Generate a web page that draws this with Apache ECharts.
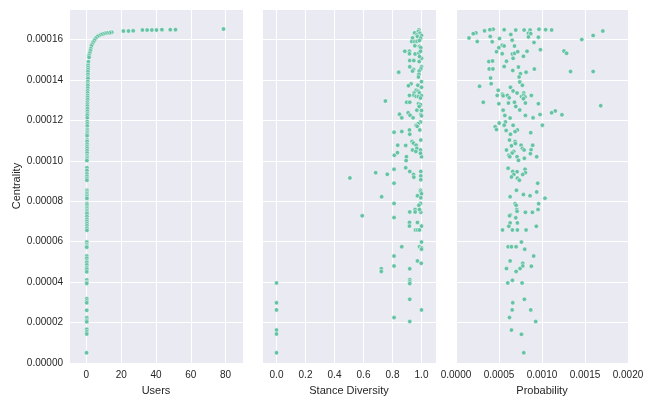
<!DOCTYPE html>
<html><head><meta charset="utf-8">
<script src="https://cdn.jsdelivr.net/npm/echarts@6/dist/echarts.min.js"></script>
<style>html,body{margin:0;padding:0;background:#fff}#c{width:654px;height:401px}</style>
</head><body><div id="c"></div>
<script>
const xNames = ['Users', 'Stance Diversity', 'Probability'];
const yName = 'Centrality';
const yTicks = [0, 0.00002, 0.00004, 0.00006, 0.00008, 0.0001, 0.00012, 0.00014, 0.00016];

const usersPts = [
[14.58,16.35e-5],[13.4,16.33e-5],[11.89,16.32e-5],[10.74,16.30e-5],[9.59,16.27e-5],[8.44,16.24e-5],[7.29,16.19e-5],[6.33,16.14e-5],
[5.37,16.06e-5],[4.60,15.96e-5],[3.84,15.86e-5],[3.26,15.76e-5],[2.88,15.67e-5],[2.49,15.54e-5],[2.30,15.44e-5],[1.92,15.32e-5],
[1.53,15.21e-5],[1.53,15.11e-5],[1.15,14.89e-5],
[21.3,16.41e-5],[24.2,16.41e-5],[26.9,16.42e-5],[32.2,16.46e-5],[34.9,16.46e-5],[37.6,16.46e-5],[40.3,16.46e-5],[43.4,16.48e-5],
[48.2,16.48e-5],[51.2,16.48e-5],[78.8,16.51e-5],
[1.0,14.72e-5],[1.0,14.61e-5],[1.0,14.51e-5],[0.9,14.40e-5],[0.9,14.27e-5],[0.9,14.15e-5],[0.9,14.07e-5],[0.8,13.91e-5],
[0.8,13.80e-5],[0.8,13.72e-5],[0.8,13.59e-5],[0.7,13.46e-5],[0.7,13.35e-5],[0.7,13.23e-5],[0.7,13.13e-5],[0.7,13.02e-5],
[0.6,12.90e-5],[0.6,12.80e-5],[0.6,12.70e-5],[0.6,12.58e-5],[0.6,12.45e-5],[0.6,12.33e-5],[0.5,12.25e-5],[0.5,12.12e-5],
[0.5,11.93e-5],[0.5,11.83e-5],[0.5,11.72e-5],[0.5,11.55e-5],[0.5,11.47e-5],[0.5,11.39e-5],[0.4,11.31e-5],[0.4,11.23e-5],
[0.4,11.02e-5],[0.4,10.95e-5],[0.4,10.82e-5],[0.4,10.71e-5],[0.4,10.61e-5],[0.4,10.50e-5],[0.4,10.38e-5],[0.4,10.25e-5],
[0.4,10.17e-5],[0.3,10.09e-5],[0.3,10.01e-5],[0.3,9.65e-5],[0.3,9.52e-5],[0.3,9.36e-5],[0.3,9.24e-5],[0.3,9.13e-5],
[0.3,9.04e-5],[0.3,8.54e-5],[0.3,8.46e-5],[0.3,8.38e-5],[0.3,8.30e-5],[0.3,8.22e-5],[0.3,8.14e-5],[0.3,7.89e-5],
[0.3,7.81e-5],[0.3,7.70e-5],[0.3,7.62e-5],[0.3,7.54e-5],[0.3,7.46e-5],[0.3,7.38e-5],[0.3,7.24e-5],[0.3,7.11e-5],
[0.3,7.00e-5],[0.3,6.89e-5],[0.3,6.79e-5],[0.3,6.67e-5],[0.3,6.56e-5],[0.2,5.98e-5],[0.2,5.86e-5],[0.2,5.78e-5],
[0.2,5.73e-5],[0.2,5.29e-5],[0.2,5.18e-5],[0.2,5.05e-5],[0.2,4.97e-5],[0.2,4.85e-5],[0.2,4.72e-5],[0.2,4.64e-5],
[0.2,4.51e-5],[0.2,4.11e-5],[0.2,3.99e-5],[0.2,3.94e-5],[0.2,3.18e-5],[0.2,3.07e-5],[0.2,2.98e-5],[0.2,2.61e-5],
[0.2,2.24e-5],[0.2,2.12e-5],[0.2,2.04e-5],[0.2,1.67e-5],[0.2,1.55e-5],[0.2,1.44e-5],[0.1,0.51e-5]
];

const stancePts = [
[0.982,16.46e-5],[0.977,16.38e-5],[0.988,16.30e-5],[0.952,16.32e-5],[0.968,16.22e-5],[1.0,16.19e-5],[0.972,16.14e-5],[0.938,16.07e-5],
[0.993,16.06e-5],[0.933,15.89e-5],[0.954,15.89e-5],[0.970,15.91e-5],[0.986,15.94e-5],[0.954,15.68e-5],[0.986,15.65e-5],[0.995,15.59e-5],
[0.885,15.41e-5],[0.917,15.41e-5],[0.917,15.29e-5],[0.956,15.28e-5],[0.982,15.32e-5],[0.993,15.41e-5],[1.0,15.06e-5],[0.986,15.15e-5],
[0.919,14.95e-5],[0.947,14.95e-5],[0.984,14.90e-5],[1.0,14.64e-5],[0.995,14.54e-5],[0.919,14.64e-5],[0.945,14.51e-5],[0.938,14.43e-5],
[0.984,14.43e-5],[0.843,14.38e-5],[0.982,14.27e-5],[0.979,14.14e-5],[1.0,13.91e-5],[0.928,13.80e-5],[0.910,13.71e-5],[0.975,13.73e-5],
[1.0,13.63e-5],[0.963,13.48e-5],[0.977,13.43e-5],[0.949,13.35e-5],[0.986,13.35e-5],[0.947,13.24e-5],[0.917,13.23e-5],[0.963,13.18e-5],
[0.979,13.17e-5],[1.0,13.21e-5],[0.993,13.10e-5],[0.751,12.95e-5],[0.898,12.89e-5],[0.919,12.89e-5],[0.979,12.82e-5],[0.993,12.77e-5],
[0.984,12.68e-5],[0.968,12.50e-5],[1.0,12.48e-5],[0.908,12.37e-5],[0.848,12.30e-5],[0.921,12.25e-5],[0.995,12.28e-5],[1.0,12.22e-5],
[0.864,12.12e-5],[0.942,12.12e-5],[0.993,11.91e-5],[0.977,11.83e-5],[0.963,11.75e-5],[0.970,11.70e-5],[0.988,11.52e-5],[0.811,11.41e-5],
[0.864,11.44e-5],[0.917,11.52e-5],[0.919,11.31e-5],[0.995,11.02e-5],[0.935,10.95e-5],[0.945,10.87e-5],[0.836,10.77e-5],[0.891,10.76e-5],
[0.963,10.77e-5],[0.968,10.61e-5],[0.938,10.53e-5],[0.961,10.46e-5],[0.993,10.53e-5],[0.813,10.27e-5],[0.834,10.40e-5],[0.896,10.20e-5],
[0.894,10.01e-5],[1.0,10.20e-5],[0.993,10.37e-5],[0.811,9.58e-5],[0.891,9.65e-5],[0.919,9.47e-5],[0.995,9.47e-5],[0.684,9.41e-5],
[0.764,9.33e-5],[0.945,9.32e-5],[0.947,9.19e-5],[0.995,9.25e-5],[0.995,9.06e-5],[0.506,9.15e-5],[0.811,8.89e-5],[0.993,8.54e-5],
[0.995,8.46e-5],[1.0,8.37e-5],[0.972,8.27e-5],[0.725,8.22e-5],[0.995,8.17e-5],[0.811,7.89e-5],[0.993,7.89e-5],[0.982,7.80e-5],
[0.956,7.59e-5],[0.956,7.47e-5],[0.919,7.47e-5],[0.995,7.46e-5],[0.986,7.59e-5],[0.591,7.28e-5],[0.811,7.19e-5],[0.917,6.95e-5],
[0.972,6.95e-5],[0.917,6.77e-5],[1.0,6.77e-5],[0.958,6.58e-5],[0.972,6.58e-5],[0.986,6.58e-5],[1.0,5.98e-5],[0.864,5.75e-5],
[0.986,5.75e-5],[1.0,5.70e-5],[1.0,5.63e-5],[0.811,5.29e-5],[0.972,5.05e-5],[0.811,4.80e-5],[0.919,4.66e-5],[0.998,4.93e-5],
[0.723,4.66e-5],[0.723,4.53e-5],[0.919,4.12e-5],[0.919,4.02e-5],[0.919,3.93e-5],[0,3.96e-5],[0.919,3.15e-5],[0,2.98e-5],
[0,2.63e-5],[1.0,2.63e-5],[0.811,2.25e-5],[0.919,2.06e-5],[0,1.63e-5],[0,1.44e-5],[0,0.51e-5]
];

const probPts = [
[17.07e-4,16.41e-5],[15.95e-4,16.19e-5],[14.63e-4,15.99e-5],[11.12e-4,16.46e-5],[10.42e-4,16.48e-5],[9.65e-4,16.50e-5],[8.61e-4,16.46e-5],[7.92e-4,16.46e-5],
[6.95e-4,16.46e-5],[5.60e-4,16.48e-5],[4.32e-4,16.50e-5],[3.94e-4,16.48e-5],[3.32e-4,16.42e-5],[2.32e-4,16.32e-5],[2.01e-4,16.28e-5],[1.51e-4,16.07e-5],
[2.47e-4,15.89e-5],[4.21e-4,15.88e-5],[3.98e-4,16.14e-5],[5.06e-4,16.04e-5],[6.37e-4,16.24e-5],[6.53e-4,15.96e-5],[8.42e-4,16.30e-5],[8.69e-4,16.28e-5],
[8.42e-4,16.12e-5],[9.58e-4,16.11e-5],[9.07e-4,15.85e-5],[5.37e-4,15.71e-5],[5.60e-4,15.67e-5],[6.80e-4,15.67e-5],[4.98e-4,15.59e-5],[4.71e-4,15.39e-5],
[5.37e-4,15.29e-5],[6.56e-4,15.28e-5],[6.83e-4,15.31e-5],[7.18e-4,15.39e-5],[8.26e-4,15.41e-5],[9.81e-4,15.49e-5],[12.55e-4,15.42e-5],[12.86e-4,15.31e-5],
[6.64e-4,15.06e-5],[7.84e-4,15.16e-5],[5.87e-4,14.92e-5],[3.82e-4,14.90e-5],[4.25e-4,14.93e-5],[5.60e-4,14.66e-5],[7.26e-4,14.63e-5],[3.86e-4,14.54e-5],
[4.29e-4,14.54e-5],[6.60e-4,14.46e-5],[9.11e-4,14.53e-5],[8.15e-4,14.38e-5],[7.49e-4,14.30e-5],[7.34e-4,14.14e-5],[13.32e-4,14.41e-5],[15.95e-4,14.41e-5],
[4.02e-4,14.09e-5],[7.41e-4,13.89e-5],[7.72e-4,13.73e-5],[2.74e-4,13.68e-5],[4.09e-4,13.81e-5],[6.33e-4,13.63e-5],[4.90e-4,13.48e-5],[6.64e-4,13.45e-5],
[7.10e-4,13.35e-5],[7.88e-4,13.35e-5],[5.41e-4,13.29e-5],[4.79e-4,13.23e-5],[5.48e-4,13.21e-5],[5.98e-4,13.23e-5],[6.18e-4,13.11e-5],[7.61e-4,13.17e-5],
[7.88e-4,13.24e-5],[8.03e-4,13.15e-5],[8.76e-4,13.23e-5],[7.84e-4,13.07e-5],[3.17e-4,12.89e-5],[4.98e-4,12.82e-5],[6.10e-4,12.85e-5],[6.80e-4,12.89e-5],
[8.07e-4,12.85e-5],[9.58e-4,12.82e-5],[6.95e-4,12.68e-5],[5.48e-4,12.50e-5],[7.41e-4,12.51e-5],[11.54e-4,12.46e-5],[11.12e-4,12.37e-5],[12.32e-4,12.27e-5],
[9.77e-4,12.28e-5],[5.68e-4,12.24e-5],[8.07e-4,12.24e-5],[8.96e-4,12.12e-5],[6.29e-4,12.11e-5],[16.83e-4,12.72e-5],[5.02e-4,11.86e-5],[5.75e-4,11.91e-5],
[4.56e-4,11.68e-5],[5.60e-4,11.76e-5],[6.64e-4,11.75e-5],[10.04e-4,11.76e-5],[4.71e-4,11.54e-5],[5.83e-4,11.50e-5],[7.14e-4,11.52e-5],[6.87e-4,11.44e-5],
[8.69e-4,11.39e-5],[6.33e-4,11.31e-5],[6.22e-4,11.02e-5],[6.87e-4,10.95e-5],[6.91e-4,10.85e-5],[6.45e-4,10.74e-5],[7.57e-4,10.77e-5],[8.92e-4,10.77e-5],
[5.87e-4,10.53e-5],[7.72e-4,10.61e-5],[7.92e-4,10.53e-5],[8.73e-4,10.54e-5],[6.72e-4,10.46e-5],[6.53e-4,10.38e-5],[8.65e-4,10.35e-5],[6.14e-4,10.27e-5],
[7.10e-4,10.20e-5],[6.25e-4,10.20e-5],[7.95e-4,10.12e-5],[9.38e-4,10.20e-5],[7.26e-4,10.02e-5],[6.06e-4,9.63e-5],[8.03e-4,9.58e-5],[6.60e-4,9.47e-5],
[7.10e-4,9.46e-5],[8.07e-4,9.41e-5],[6.72e-4,9.32e-5],[6.45e-4,9.20e-5],[7.76e-4,9.32e-5],[7.14e-4,9.14e-5],[7.37e-4,9.04e-5],[9.50e-4,8.89e-5],
[7.03e-4,8.54e-5],[9.38e-4,8.46e-5],[7.84e-4,8.33e-5],[6.29e-4,8.22e-5],[8.61e-4,8.27e-5],[10.35e-4,8.15e-5],[6.87e-4,7.88e-5],[6.99e-4,7.80e-5],
[9.61e-4,7.88e-5],[9.54e-4,7.59e-5],[7.07e-4,7.59e-5],[7.10e-4,7.50e-5],[8.07e-4,7.45e-5],[8.88e-4,7.45e-5],[6.33e-4,7.32e-5],[6.22e-4,7.28e-5],
[6.95e-4,7.18e-5],[6.29e-4,6.93e-5],[7.14e-4,6.93e-5],[6.14e-4,6.76e-5],[9.34e-4,6.76e-5],[5.41e-4,6.58e-5],[6.56e-4,6.58e-5],[7.14e-4,6.58e-5],
[8.15e-4,6.58e-5],[7.61e-4,5.98e-5],[6.06e-4,5.75e-5],[6.45e-4,5.75e-5],[6.99e-4,5.75e-5],[7.99e-4,5.63e-5],[9.03e-4,5.29e-5],[6.29e-4,5.05e-5],
[7.76e-4,4.93e-5],[7.76e-4,4.80e-5],[8.76e-4,4.79e-5],[7.45e-4,4.67e-5],[5.87e-4,4.67e-5],[6.99e-4,4.53e-5],[6.56e-4,4.09e-5],[6.02e-4,3.96e-5],
[7.68e-4,3.96e-5],[7.95e-4,3.15e-5],[6.60e-4,2.98e-5],[6.53e-4,2.63e-5],[8.69e-4,2.63e-5],[6.22e-4,2.25e-5],[9.27e-4,2.06e-5],[6.45e-4,1.63e-5],
[7.61e-4,1.42e-5],[7.88e-4,0.51e-5]
];

const FONT = '"Liberation Sans", Arial, sans-serif';
const TXT = '#262626';
const BG = '#EAEAF2';
const PT = '#66c2a5';

const chart = echarts.init(document.getElementById('c'), null, {renderer: 'canvas'});
const gridDefs = [
  {left: 69, top: 9, width: 174, height: 359},
  {left: 262, top: 9, width: 174, height: 359},
  {left: 456, top: 9, width: 172, height: 359}
];
const split = {show: true, lineStyle: {color: '#ffffff', width: 1}};
const lbl = {color: TXT, fontSize: 10, fontFamily: FONT};

const xAxes = [
  {gridIndex: 0, type: 'value', min: -10, max: 90, splitNumber: 5, minInterval: 20, maxInterval: 20,
   axisLabel: Object.assign({margin: 7, showMinLabel: false, showMaxLabel: false, formatter: v => String(Math.round(v))}, lbl)},
  {gridIndex: 1, type: 'value', min: -0.1, max: 1.1, splitNumber: 6, minInterval: 0.2, maxInterval: 0.2,
   axisLabel: Object.assign({margin: 7, showMinLabel: false, showMaxLabel: false, formatter: v => v.toFixed(1)}, lbl)},
  {gridIndex: 2, type: 'value', min: 0, max: 0.002, interval: 0.0005,
   axisLabel: Object.assign({margin: 7, formatter: v => v.toFixed(4)}, lbl)}
].map((a, i) => Object.assign(a, {
  name: xNames[i], nameLocation: 'middle', nameGap: 18,
  nameTextStyle: {color: TXT, fontSize: 11, fontFamily: FONT},
  axisLine: {show: false}, axisTick: {show: false}, splitLine: split
}));

const yAxes = [0, 1, 2].map(i => ({
  gridIndex: i, type: 'value', min: 0, max: 0.000175, interval: 0.00002,
  name: i === 0 ? yName : '', nameLocation: 'middle', nameGap: 46,
  nameTextStyle: {color: TXT, fontSize: 11, fontFamily: FONT},
  axisLine: {show: false}, axisTick: {show: false}, splitLine: split,
  axisLabel: Object.assign({show: i === 0, margin: 6, showMaxLabel: false,
    formatter: v => (yTicks.some(t => Math.abs(t - v) < 1e-9) ? v.toFixed(5) : '')}, lbl)
}));

const mk = (data, i) => ({
  type: 'scatter', xAxisIndex: i, yAxisIndex: i, data: data,
  symbolSize: 4.5, animation: false,
  itemStyle: {color: PT, borderColor: '#ffffff', borderWidth: 0.5, opacity: 1}
});

chart.setOption({
  backgroundColor: '#ffffff',
  animation: false,
  grid: gridDefs.map(g => Object.assign({show: true, backgroundColor: BG, borderWidth: 0}, g)),
  xAxis: xAxes,
  yAxis: yAxes,
  series: [mk(usersPts, 0), mk(stancePts, 1), mk(probPts, 2)]
});
</script>
</body></html>
